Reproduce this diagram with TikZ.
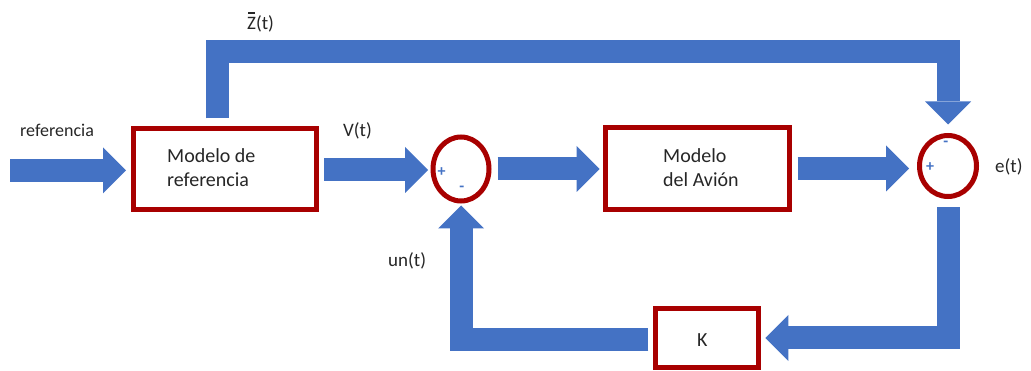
\documentclass[tikz,border=0pt]{standalone}
\usepackage{fontspec}
\setmainfont{Carlito}
\usetikzlibrary{arrows.meta,shapes.geometric}
\definecolor{ablue}{RGB}{68,114,196}
\definecolor{bred}{RGB}{168,0,0}
\definecolor{txt}{RGB}{38,38,38}
\newcommand{\barZ}{{\ooalign{Z\cr\hidewidth\raisebox{15pt}{\rule{7pt}{2.2pt}}\hidewidth\cr}}}
\begin{document}
\begin{tikzpicture}[x=1pt,y=-1pt,
  blockbox/.style={draw=bred, line width=5pt, rectangle, inner sep=0pt},
  sumnode/.style={draw=bred, line width=5pt, ellipse, inner sep=0pt},
  flow/.style={draw=ablue, line width=23pt, line join=miter, -{Triangle[width=46pt,length=23pt,line width=0pt]}},
  lbl/.style={font=\fontsize{19}{23}\selectfont, text=txt, inner sep=0pt, anchor=base west},
  boxtxt/.style={font=\fontsize{20}{24}\selectfont, text=txt, inner sep=0pt, anchor=base west},
  sign/.style={font=\fontsize{16}{16}\selectfont\bfseries, text=ablue, inner sep=0pt}
]
\useasboundingbox (0,0) rectangle (1031,371);
% blocks
\node[blockbox, minimum width=183pt, minimum height=81pt] (box1) at (225,169) {};
\node[blockbox, minimum width=184pt, minimum height=82pt] (box2) at (697.2,168.5) {};
\node[blockbox, minimum width=102.7pt, minimum height=59pt] (K) at (707,338) {};
\node[sumnode, minimum width=56pt, minimum height=64pt] (c1) at (461,169) {};
\node[sumnode, minimum width=57pt, minimum height=61pt] (c2) at (948,166) {};
% texts
\node[boxtxt] (t1a) at (167,163) {Modelo de};
\node[boxtxt] (t1b) at (167,187) {referencia};
\node[boxtxt] (t2a) at (663,163) {Modelo};
\node[boxtxt] (t2b) at (663,187) {del Avión};
\node[boxtxt] (tk) at (697,346.5) {K};
\node[lbl, font=\fontsize{18}{22}\selectfont] (lref) at (20,136.5) {referencia};
\node[lbl] (lz) at (247,29.5) {\barZ(t)};
\node[lbl] (lv) at (343,136.5) {V(t)};
\node[lbl] (le) at (995,173) {e(t)};
\node[lbl] (lu) at (388,267) {un(t)};
% signs
\node[sign] (p1) at (441.7,171.7) {+};
\node[sign] (m1) at (461.7,189) {-};
\node[sign] (m2) at (945.7,144) {-};
\node[sign] (p2) at (930,166.7) {+};
% helper coordinates
\coordinate (in) at (10,170.5);
\coordinate (zc1) at (217,51.5);
\coordinate (zc2) at (948,51.5);
\coordinate (fc1) at (948,338);
\coordinate (fc2) at (461,340);
% connectors
\draw[flow, shorten >=5pt] (in) -- (in -| box1.west);
\draw[flow, shorten <=5.2pt, shorten >=2.5pt] ([yshift=-1pt]box1.east) -- ([yshift=-1pt]box1.east -| c1.west);
\draw[flow, shorten <=6pt, shorten >=3pt] (c1.east) -- (c1.east -| box2.west);
\draw[flow, shorten <=5.8pt, shorten >=7.8pt] (box2.east) -- (box2.east -| c2.west);
\draw[flow, shorten <=7.5pt, shorten >=8.5pt] (box1.north -| zc1) -- (zc1) -- (zc2) -- (c2.north);
\draw[flow, shorten <=8.5pt, shorten >=4.5pt] (c2.south) -- (fc1) -- (K.east);
\draw[flow, shorten <=4.8pt, shorten >=2pt] ([yshift=-2pt]K.west) -- (fc2) -- (c1.south);
\end{tikzpicture}
\end{document}
